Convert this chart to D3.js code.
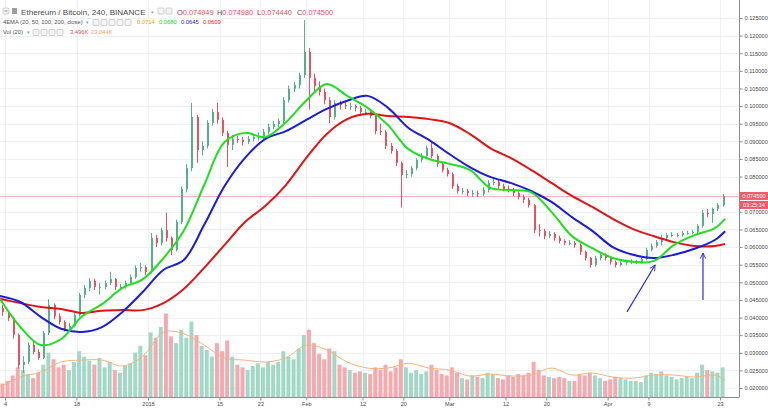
<!DOCTYPE html>
<html><head><meta charset="utf-8">
<script src="https://cdnjs.cloudflare.com/ajax/libs/d3/7.8.5/d3.min.js"></script>
<style>body{margin:0;background:#fff;}svg{display:block;font-family:"Liberation Sans",Arial,sans-serif;}</style>
</head><body><svg id="c" width="768" height="409"></svg>
<script>
// ---------------- DATA ----------------
const startDate = "2017-12-03";   // first daily candle
const firstOpen = 0.0427;
const closes = [
 .0416,.0399,.0351,.0265,.0274,.0322,.0302,.0285,.0356,.0436,.0404,.0387,.0368,.0376,.0407,.0464,.0484,.0504,.0487,.0487,.0498,.0509,.0487,.0487,.0498,.0515,.0541,.0543,.0529,
 .0626,.0612,.0648,.0626,.0592,.0671,.0765,.0824,.0969,.0875,.0887,.0952,.0983,.0961,.0924,.0890,.0907,.0904,.0898,.0907,.0912,.0915,.0927,.0941,.0949,.0958,.1017,.1049,.1060,.1088,.1154,
 .1080,.1057,.1040,.1017,.0969,.1009,.1003,.1000,.1000,.0995,.0983,.0983,.0972,.0929,.0927,.0887,.0873,.0839,.0805,.0807,.0824,.0847,.0858,.0881,.0858,.0836,.0819,.0807,
 .0773,.0759,.0759,.0753,.0753,.0751,.0762,.0782,.0785,.0773,.0765,.0762,.0753,.0742,.0734,.0719,.0648,.0646,.0631,.0637,.0626,.0617,.0612,.0612,.0606,.0586,.0569,.0549,.0569,.0578,.0569,
 .0558,.0549,.0555,.0558,.0558,.0558,.0566,.0592,.0603,.0614,.0626,.0634,.0634,.0634,.0640,.0640,.0643,.0660,.0697,.0694,.0708,.0719,.0745];
const highs = [
 .0435,.0420,.0402,.0355,.0290,.0330,.0335,.0310,.0362,.0452,.0440,.0412,.0392,.0385,.0412,.0470,.0492,.0512,.0510,.0498,.0505,.0530,.0512,.0495,.0505,.0522,.0548,.0555,.0548,
 .0640,.0635,.0655,.0697,.0630,.0678,.0772,.0835,.1009,.0975,.0900,.0960,.0992,.1009,.0968,.0930,.0918,.0915,.0912,.0915,.0920,.0925,.0935,.0950,.0958,.0965,.1025,.1058,.1068,.1095,.1244,
 .1165,.1092,.1070,.1050,.1025,.1018,.1015,.1012,.1010,.1005,.1000,.0992,.0990,.0978,.0950,.0932,.0895,.0878,.0842,.0818,.0830,.0852,.0866,.0888,.0895,.0865,.0842,.0825,
 .0812,.0780,.0768,.0765,.0762,.0760,.0770,.0790,.0795,.0792,.0780,.0775,.0768,.0758,.0748,.0740,.0722,.0665,.0652,.0645,.0642,.0632,.0622,.0620,.0618,.0610,.0590,.0572,.0575,.0585,.0582,
 .0572,.0562,.0560,.0562,.0565,.0563,.0570,.0598,.0610,.0620,.0635,.0640,.0642,.0640,.0645,.0646,.0648,.0665,.0705,.0708,.0712,.0725,.0750];
const lows = [
 .0405,.0390,.0340,.0255,.0243,.0268,.0295,.0280,.0282,.0350,.0395,.0380,.0360,.0362,.0372,.0402,.0455,.0475,.0478,.0465,.0480,.0492,.0478,.0478,.0482,.0492,.0510,.0530,.0520,
 .0525,.0600,.0605,.0615,.0577,.0588,.0665,.0755,.0815,.0839,.0860,.0880,.0945,.0950,.0915,.0827,.0875,.0895,.0888,.0892,.0900,.0902,.0905,.0920,.0935,.0940,.0952,.1010,.1040,.1050,.1080,
 .0990,.1040,.1030,.1005,.0952,.0962,.0990,.0992,.0990,.0985,.0975,.0975,.0965,.0920,.0918,.0878,.0865,.0830,.0712,.0795,.0800,.0818,.0840,.0850,.0852,.0828,.0812,.0800,
 .0765,.0752,.0750,.0745,.0743,.0742,.0745,.0755,.0775,.0765,.0758,.0755,.0745,.0735,.0725,.0712,.0640,.0630,.0622,.0625,.0618,.0610,.0605,.0605,.0598,.0578,.0562,.0542,.0545,.0562,.0562,
 .0550,.0542,.0545,.0550,.0552,.0552,.0553,.0562,.0588,.0598,.0605,.0620,.0628,.0628,.0630,.0635,.0636,.0640,.0655,.0685,.0668,.0702,.0715];
const volumes = [ // thousands
 10,12,16,22,20,17,14,18,24,33,28,22,24,20,26,34,30,27,24,29,22,26,20,18,23,25,33,38,31,
 48,44,52,62,45,40,50,44,56,46,38,35,30,40,34,42,30,24,22,20,23,25,22,26,24,26,34,30,28,36,46,
 50,40,32,28,36,34,24,22,20,18,19,18,17,22,20,24,19,22,28,22,18,20,17,19,24,20,17,16,
 22,18,14,13,16,15,14,18,17,14,13,16,15,17,16,18,26,20,16,15,14,15,14,12,12,17,16,18,16,14,12,
 13,15,14,13,12,12,11,16,18,17,19,16,15,13,14,15,14,18,24,20,19,18,22];

const emaDates = ["2017-12-03","2017-12-07","2017-12-11","2017-12-15","2017-12-19","2017-12-23","2017-12-27","2017-12-31",
 "2018-01-04","2018-01-08","2018-01-12","2018-01-16","2018-01-20","2018-01-24","2018-01-28","2018-02-01","2018-02-05",
 "2018-02-09","2018-02-13","2018-02-17","2018-02-21","2018-02-25","2018-03-01","2018-03-05","2018-03-09","2018-03-13",
 "2018-03-17","2018-03-21","2018-03-25","2018-03-29","2018-04-02","2018-04-06","2018-04-10","2018-04-14","2018-04-18",
 "2018-04-22","2018-04-24"];
const ema50 = [.0453,.0373,.0322,.0339,.0402,.0438,.0484,.0509,.0568,.0646,.0776,.0898,.0924,.0912,.0954,.1016,.1063,.1029,.0995,.0946,.0878,.0850,.0836,.0819,.0768,.0762,.0756,.0700,.0631,.0597,.0569,.0558,.0560,.0606,.0634,.0654,.0680];
const ema100 = [.0461,.0444,.0402,.0368,.0359,.0373,.0416,.0473,.0535,.0563,.0663,.0773,.0853,.0907,.0929,.0961,.0992,.1015,.1029,.0995,.0938,.0904,.0864,.0827,.0799,.0782,.0759,.0728,.0685,.0646,.0600,.0578,.0569,.0578,.0595,.0620,.0645];
const ema200 = [.0453,.0441,.0430,.0424,.0413,.0419,.0421,.0421,.0441,.0481,.0541,.0606,.0671,.0717,.0776,.0853,.0921,.0963,.0978,.0972,.0969,.0963,.0952,.0921,.0881,.0853,.0819,.0782,.0745,.0714,.0680,.0651,.0631,.0614,.0603,.0603,.0609];
const volMA = [7.4,14.8,18.5,26,27.4,27.4,23,30.4,48,47,38.5,29,27.4,26,29,38.5,35,26,21.5,21.5,25,21.5,20,15.6,17,15.6,16.3,21.5,16.3,17.8,14.8,14,16.3,16.3,14.8,16.3,12.6];

const priceTicks = [0.020,0.025,0.030,0.035,0.040,0.045,0.050,0.055,0.060,0.065,0.070,0.075,0.080,0.085,0.090,0.095,0.100,0.105,0.110,0.115,0.120,0.125];
const timeTickDates = ["2017-12-04","2017-12-18","2018-01-01","2018-01-15","2018-01-23","2018-02-01","2018-02-12","2018-02-20","2018-03-01","2018-03-12","2018-03-20","2018-04-01","2018-04-09","2018-04-23"];
const timeTickLabels = ["4","18","2018","15","23","Feb","12","20","Mar","12","20","Apr","9","23"];

const lastPrice = 0.0745;
const lastPriceLabel = "0.074500";
const countdown = "03:25:14";
const title = "Ethereum / Bitcoin, 240, BINANCE";
const ohlcLabels = ["O","H","L","C"];
const ohlcValues = ["0.074949","0.074980","0.074440","0.074500"];
const emaLegendValues = ["0.0714","0.0680","0.0645","0.0609"];
const volLegendValues = ["3.496K","23.044K"];
const arrows = [
  {from:["2018-04-04T19:00",0.0416], to:["2018-04-10T07:00",0.0549]},
  {from:["2018-04-19T16:00",0.0450], to:["2018-04-19T16:00",0.0583]}];

// ---------------- CHART ----------------
const plotRight = 739, plotBottom = 397.5;
const upC = "#53b08a", dnC = "#e4535f";
const svg = d3.select("#c");
const parse = d3.utcParse("%Y-%m-%d");
const parseT = d3.utcParse("%Y-%m-%dT%H:%M");
const x = d3.scaleUtc().domain([parse("2017-12-04"), parse("2018-04-23")]).range([5, 720]);
const y = d3.scaleLinear().domain([0.020, 0.125]).range([388, 18]);
const yV = d3.scaleLinear().domain([0, 75]).range([397, 296]);

const start = parse(startDate);
const candles = closes.map((c, i) => {
  const d = d3.utcHour.offset(d3.utcDay.offset(start, i), 12);
  const o = i ? closes[i - 1] : firstOpen;
  return {d, o, c, h: Math.max(highs[i], o, c), l: Math.min(lows[i], o, c), v: volumes[i]};
});

const defs = svg.append("defs");
defs.append("clipPath").attr("id", "clip").append("rect").attr("x", 0).attr("y", 0).attr("width", plotRight).attr("height", plotBottom);
defs.append("marker").attr("id", "ah").attr("viewBox", "0 0 10 10").attr("refX", 9).attr("refY", 5)
  .attr("markerWidth", 7).attr("markerHeight", 7).attr("orient", "auto-start-reverse").attr("markerUnits", "userSpaceOnUse")
  .append("path").attr("d", "M1,1 L9,5 L1,9").attr("fill", "none").attr("stroke", "#2a2ad8").attr("stroke-width", 1.3);

// grid
const grid = svg.append("g");
grid.selectAll("line.h").data(priceTicks).join("line").attr("class", "h")
  .attr("x1", 0).attr("x2", plotRight).attr("y1", d => Math.round(y(d)) + 0.5).attr("y2", d => Math.round(y(d)) + 0.5)
  .attr("stroke", "#eef1f4");
grid.selectAll("line.v").data(timeTickDates).join("line").attr("class", "v")
  .attr("x1", d => Math.round(x(parse(d))) + 0.5).attr("x2", d => Math.round(x(parse(d))) + 0.5)
  .attr("y1", 0).attr("y2", plotBottom).attr("stroke", "#eef1f4");

const plot = svg.append("g").attr("clip-path", "url(#clip)");
const bw = 4;
// volume bars
plot.selectAll("rect.vol").data(candles).join("rect").attr("class", "vol")
  .attr("x", d => x(d.d) - bw / 2).attr("width", bw)
  .attr("y", d => yV(d.v)).attr("height", d => yV(0) - yV(d.v))
  .attr("fill", d => d.c >= d.o ? "#a3d8c6" : "#f5aab0");
// volume MA
const vmaLine = d3.line().x((d, i) => x(parse(emaDates[i]))).y(d => yV(d)).curve(d3.curveCatmullRom.alpha(0.5));
plot.append("path").attr("d", vmaLine(volMA)).attr("fill", "none").attr("stroke", "#f6b27c").attr("stroke-width", 1);

// last price line
plot.append("line").attr("x1", 0).attr("x2", plotRight).attr("y1", Math.round(y(lastPrice)) + 0.5).attr("y2", Math.round(y(lastPrice)) + 0.5)
  .attr("stroke", "#f3b3b9").attr("stroke-width", 1);

// candles
const cg = plot.selectAll("g.c").data(candles).join("g").attr("class", "c");
cg.append("line").attr("x1", d => Math.round(x(d.d)) + 0.5).attr("x2", d => Math.round(x(d.d)) + 0.5)
  .attr("y1", d => y(d.h)).attr("y2", d => y(d.l)).attr("stroke", d => d.c >= d.o ? upC : dnC).attr("stroke-width", 1);
cg.append("rect").attr("x", d => Math.round(x(d.d))).attr("width", 2)
  .attr("y", d => y(Math.max(d.o, d.c))).attr("height", d => Math.max(1, Math.abs(y(d.o) - y(d.c))))
  .attr("fill", d => d.c >= d.o ? upC : dnC);

// EMA lines
const emaLine = d3.line().x((d, i) => x(parse(emaDates[i]))).y(d => y(d)).curve(d3.curveCatmullRom.alpha(0.5));
[[ema200, "#e01414"], [ema100, "#1a1ae0"], [ema50, "#1ee01e"]].forEach(([arr, col]) => {
  plot.append("path").attr("d", emaLine(arr)).attr("fill", "none").attr("stroke", col).attr("stroke-width", 2);
});

// arrows
arrows.forEach(a => {
  plot.append("line").attr("x1", x(parseT(a.from[0]))).attr("y1", y(a.from[1]))
    .attr("x2", x(parseT(a.to[0]))).attr("y2", y(a.to[1]))
    .attr("stroke", "#2a2ad8").attr("stroke-width", 1.2).attr("marker-end", "url(#ah)");
});

// right axis
const ay = svg.append("g").attr("transform", `translate(${plotRight + 0.5},0)`)
  .call(d3.axisRight(y).tickValues(priceTicks).tickFormat(d3.format(".6f")).tickSize(3).tickPadding(2));
ay.select(".domain").attr("stroke", "#8c8c8c").attr("d", `M0,0V${plotBottom}`);
ay.selectAll(".tick line").attr("stroke", "#8c8c8c");
ay.selectAll(".tick text").attr("fill", "#4a4a4a").style("font-size", "5.6px");
ay.selectAll(".tick").filter(d => Math.abs(d - 0.075) < 1e-9).remove();

// bottom axis
const ax = svg.append("g").attr("transform", `translate(0,${plotBottom})`)
  .call(d3.axisBottom(x).tickValues(timeTickDates.map(parse)).tickFormat((d, i) => timeTickLabels[i]).tickSize(3).tickPadding(2));
ax.select(".domain").remove();
ax.append("line").attr("x1", 0).attr("x2", plotRight).attr("y1", 0).attr("y2", 0).attr("stroke", "#8c8c8c");
ax.selectAll(".tick line").attr("stroke", "#8c8c8c");
ax.selectAll(".tick text").attr("fill", "#4a4a4a").style("font-size", "5.6px");

// price labels
const py = y(lastPrice);
svg.append("rect").attr("x", plotRight + 1).attr("y", py - 4).attr("width", 28).attr("height", 8).attr("fill", "#ee5c69");
svg.append("text").attr("x", plotRight + 15).attr("y", py + 2).attr("text-anchor", "middle").attr("fill", "#fff").style("font-size", "5.6px").text(lastPriceLabel);
svg.append("rect").attr("x", plotRight + 1).attr("y", py + 5).attr("width", 28).attr("height", 8).attr("fill", "#ee5c69");
svg.append("text").attr("x", plotRight + 15).attr("y", py + 11).attr("text-anchor", "middle").attr("fill", "#fff").style("font-size", "5.6px").text(countdown);

// legend
const lg = svg.append("g");
function iconBox(xp, yp, s) {
  lg.append("rect").attr("x", xp).attr("y", yp).attr("width", s).attr("height", s).attr("rx", 1)
    .attr("fill", "#f4f4f4").attr("stroke", "#bdbdbd").attr("stroke-width", 0.7);
}
iconBox(3, 8, 6);
lg.append("line").attr("x1", 4.5).attr("x2", 7.5).attr("y1", 11).attr("y2", 11).attr("stroke", "#777").attr("stroke-width", 0.8);
lg.append("rect").attr("x", 12).attr("y", 8).attr("width", 5).attr("height", 6).attr("fill", "#9e9e9e");
lg.append("text").attr("x", 21).attr("y", 14.5).attr("fill", "#4a4a4a").style("font-size", "8.1px").text(title);
lg.append("text").attr("x", 151).attr("y", 13.5).attr("fill", "#999").style("font-size", "5px").text("▾");
iconBox(158, 8, 6); iconBox(166, 8, 6);
const ohlcX = [177, 217, 257, 297];
ohlcLabels.forEach((l, i) => {
  const t = lg.append("text").attr("x", ohlcX[i]).attr("y", 14.5).style("font-size", "7.4px");
  t.append("tspan").attr("fill", "#555").text(l);
  t.append("tspan").attr("fill", "#e4535f").text(ohlcValues[i]);
});
lg.append("text").attr("x", 3).attr("y", 24).attr("fill", "#555").style("font-size", "5.8px").text("4EMA (20, 50, 100, 200, close)");
lg.append("text").attr("x", 86).attr("y", 23.5).attr("fill", "#999").style("font-size", "4.5px").text("▾");
[93, 101, 109, 117, 125].forEach(v => iconBox(v, 19.5, 6));
const emaCols = ["#f7931a", "#22cc22", "#2424d0", "#dd2222"];
const emaX = [137, 159, 181, 203];
emaLegendValues.forEach((v, i) => lg.append("text").attr("x", emaX[i]).attr("y", 24).attr("fill", emaCols[i]).style("font-size", "5.8px").text(v));
lg.append("text").attr("x", 3).attr("y", 34).attr("fill", "#555").style("font-size", "5.8px").text("Vol (20)");
lg.append("text").attr("x", 27).attr("y", 33.5).attr("fill", "#999").style("font-size", "4.5px").text("▾");
[33, 41, 49, 57].forEach(v => iconBox(v, 29.5, 6));
lg.append("text").attr("x", 70).attr("y", 34).attr("fill", "#e4535f").style("font-size", "5.8px").text(volLegendValues[0]);
lg.append("text").attr("x", 91).attr("y", 34).attr("fill", "#f5a25b").style("font-size", "5.8px").text(volLegendValues[1]);
</script></body></html>
